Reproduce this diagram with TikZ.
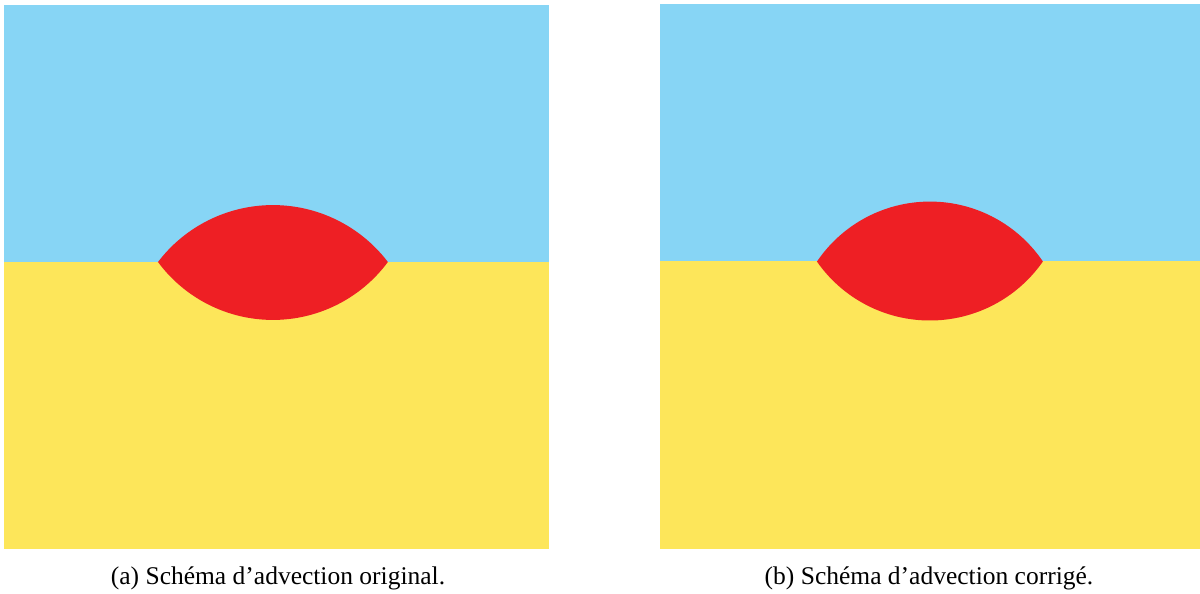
\documentclass[tikz,border=0pt]{standalone}
\usepackage{fontspec}
\setmainfont{Liberation Serif}
\definecolor{skyb}{RGB}{135,213,245}
\definecolor{sunyel}{RGB}{253,230,90}
\definecolor{lensred}{RGB}{238,31,36}
\tikzset{
  upper/.style={fill=skyb},
  lower/.style={fill=sunyel},
  lens/.style={fill=lensred},
  caption/.style={font=\fontsize{25.5}{30}\selectfont, inner sep=0pt, anchor=base}
}
\begin{document}
\begin{tikzpicture}[x=1pt,y=1pt]
\useasboundingbox (0,0) rectangle (1200,594);
% left panel
\path[lower] (4,45) rectangle (549,332);
\path[upper] (4,332) rectangle (549,589);
\path[lens] (158,332) arc[start angle=142.7, end angle=37.3, radius=144.5]
  arc[start angle=-36.5, end angle=-143.5, radius=143] -- cycle;
% right panel
\path[lower] (660,45) rectangle (1200,332.5);
\path[upper] (660,332.5) rectangle (1200,590);
\path[lens] (817,332.5) arc[start angle=145.9, end angle=34.1, radius=136.4]
  arc[start angle=-34.85, end angle=-145.15, radius=137.7] -- cycle;
% captions
\node[caption] (capa) at (278,9) {(a) Schéma d’advection original.};
\node[caption] (capb) at (929,9) {(b) Schéma d’advection corrigé.};
\end{tikzpicture}
\end{document}
